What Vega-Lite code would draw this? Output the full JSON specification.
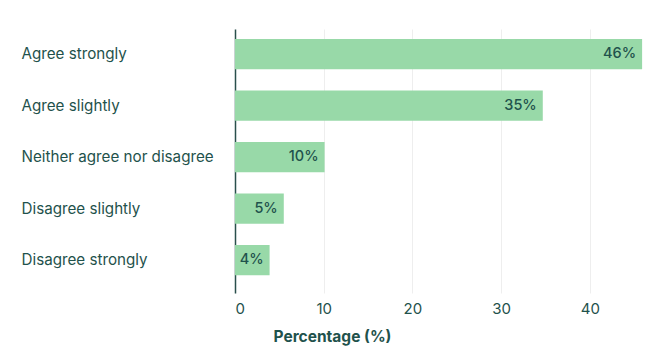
{
  "$schema": "https://vega.github.io/schema/vega-lite/v6.json",
  "width": 408,
  "height": 264,
  "autosize": {"type": "none"},
  "padding": {"left": 235, "top": 29, "right": 22, "bottom": 64},
  "background": "white",
  "config": {
    "view": {"stroke": null},
    "font": "Inter"
  },
  "data": {
    "values": [
      {"response": "Agree strongly", "pct": 45.9, "label": "46%"},
      {"response": "Agree slightly", "pct": 34.7, "label": "35%"},
      {"response": "Neither agree nor disagree", "pct": 10.1, "label": "10%"},
      {"response": "Disagree slightly", "pct": 5.5, "label": "5%"},
      {"response": "Disagree strongly", "pct": 3.9, "label": "4%"}
    ]
  },
  "encoding": {
    "y": {
      "field": "response",
      "type": "nominal",
      "sort": null,
      "scale": {"paddingInner": 0.41, "paddingOuter": 0.268, "align": 0.36},
      "axis": {
        "title": null,
        "labelAlign": "left",
        "labelPadding": 214,
        "labelLimit": 400,
        "ticks": false,
        "tickSize": 0,
        "domain": true,
        "domainColor": "#2a4f4c",
        "domainWidth": 1.5,
        "labelFontSize": 15.2,
        "labelColor": "#1f524c",
        "labelFont": "Inter",
        "labelFontWeight": 400
      }
    },
    "x": {
      "field": "pct",
      "type": "quantitative",
      "scale": {"domain": [0, 46], "nice": false},
      "axis": {
        "values": [0, 10, 20, 30, 40],
        "title": "Percentage (%)",
        "titleFontSize": 15.5,
        "titleFontWeight": "bold",
        "titleColor": "#1f524c",
        "titleAnchor": "start",
        "titleAlign": "left",
        "titleX": 38,
        "titlePadding": 13,
        "labelFontSize": 15,
        "labelColor": "#1f524c",
        "labelPadding": 8,
        "domain": false,
        "ticks": false,
        "tickSize": 0,
        "grid": true,
        "gridColor": "#eeeeee",
        "gridWidth": 1
      }
    }
  },
  "layer": [
    {
      "mark": {"type": "bar", "color": "#98d9a8"}
    },
    {
      "mark": {"type": "text", "align": "right", "dx": -6, "fontSize": 14.5, "fontWeight": 500, "color": "#1f524c", "font": "Inter"},
      "encoding": {"text": {"field": "label"}}
    }
  ]
}
